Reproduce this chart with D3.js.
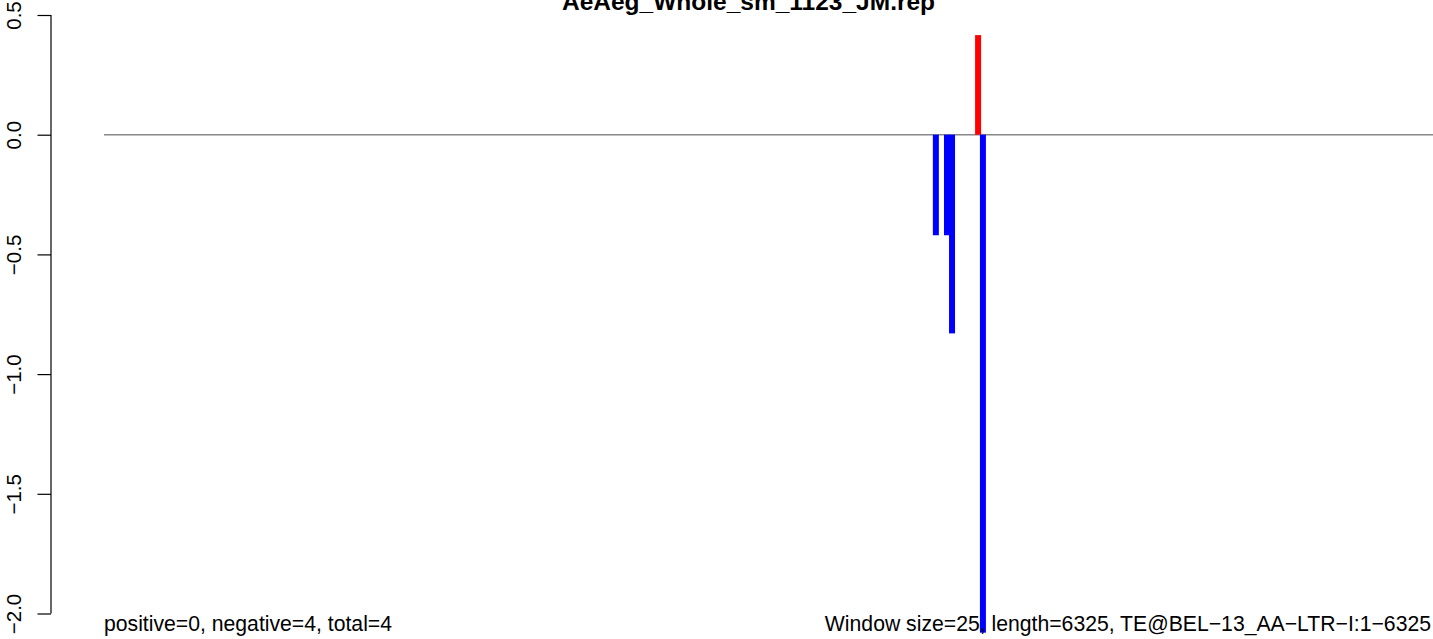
<!DOCTYPE html>
<html>
<head>
<meta charset="utf-8">
<script src="https://cdn.jsdelivr.net/npm/d3@7"></script>
<style>
  html, body { margin: 0; padding: 0; background: #fff; }
  svg { display: block; }
  text { font-family: "Liberation Sans", Arial, Helvetica, sans-serif; }
</style>
</head>
<body>
<svg id="chart" width="1433" height="639"></svg>
<script>
// ---- data ----
const titleText = "AeAeg_Whole_sm_1123_JM.rep";
const seqLength = 6325;
const positions = [3959, 4012, 4036, 4160, 4183];
const scores = [-0.42, -0.42, -0.83, 0.416, -2.08];
const yTicks = [0.5, 0.0, -0.5, -1.0, -1.5, -2.0];
const yTickLabels = ["0.5", "0.0", "\u22120.5", "\u22121.0", "\u22121.5", "\u22122.0"];
const leftNote = "positive=0, negative=4, total=4";
const rightNote = "Window size=25, length=6325, TE@BEL\u221213_AA\u2212LTR\u2212I:1\u22126325";

// ---- layout ----
const svg = d3.select("#chart");
const plotLeft = 104, plotRight = 1433;
const x = d3.scaleLinear().domain([0, seqLength]).range([plotLeft, plotRight]);
const y = d3.scaleLinear().domain([-2.0, 0.5]).range([613.5, 15]);
const barW = 6;

// title
svg.append("text")
  .attr("x", 748.5).attr("y", 10)
  .attr("text-anchor", "middle")
  .attr("font-weight", "bold")
  .attr("font-size", 24.5)
  .text(titleText);

// y axis
const yAxis = d3.axisLeft(y)
  .tickValues(yTicks)
  .tickSize(13.5)
  .tickFormat((d, i) => yTickLabels[i]);
const gy = svg.append("g").attr("transform", "translate(51,0)").call(yAxis);
gy.select(".domain").attr("d", `M0,${y(0.5)}V${y(-2.0)}`).attr("stroke", "#000").attr("stroke-width", 1.2);
gy.selectAll(".tick line").attr("stroke", "#000").attr("stroke-width", 1.2);
gy.selectAll(".tick text")
  .attr("font-size", 20.5)
  .attr("fill", "#000")
  .attr("text-anchor", "middle")
  .attr("x", null).attr("dy", null)
  .attr("transform", "translate(-30,0) rotate(-90)");

// zero line
svg.append("line")
  .attr("x1", x(0)).attr("x2", x(seqLength))
  .attr("y1", y(0)).attr("y2", y(0))
  .attr("stroke", "#888").attr("stroke-width", 1.5);

// bars
svg.append("g").selectAll("rect")
  .data(positions.map((p, i) => ({p, v: scores[i]})))
  .join("rect")
  .attr("x", d => x(d.p) - barW / 2)
  .attr("width", barW)
  .attr("y", d => d.v >= 0 ? y(d.v) : y(0))
  .attr("height", d => Math.abs(y(d.v) - y(0)))
  .attr("fill", d => d.v >= 0 ? "#ff0000" : "#0000ff");

// notes
svg.append("text")
  .attr("x", plotLeft).attr("y", 631)
  .attr("font-size", 21.2)
  .text(leftNote);
svg.append("text")
  .attr("x", 1431).attr("y", 631)
  .attr("text-anchor", "end")
  .attr("font-size", 21.2)
  .text(rightNote);
</script>
</body>
</html>
